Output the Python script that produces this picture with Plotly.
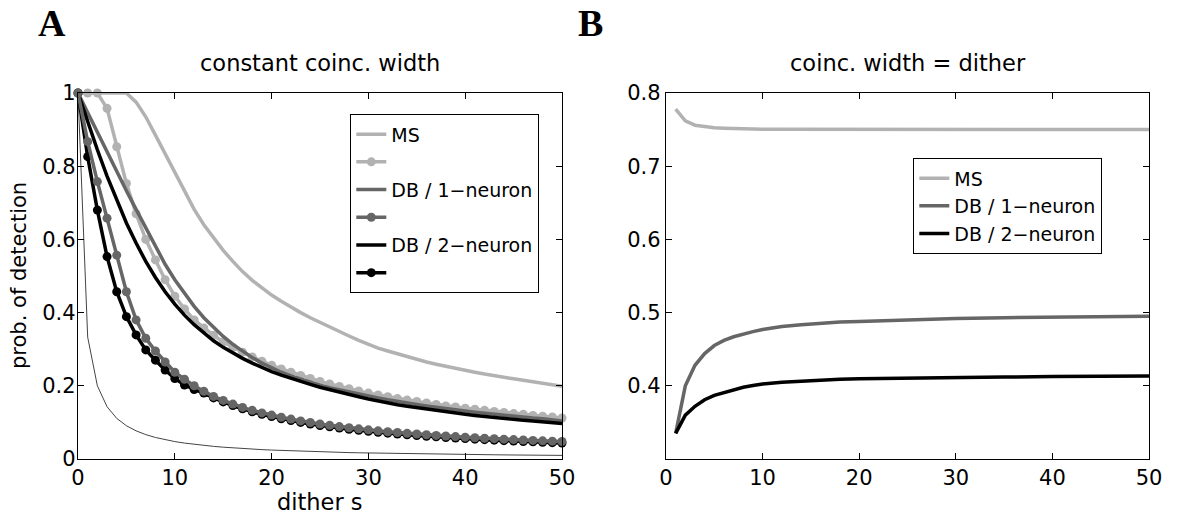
import plotly.graph_objects as go

# ---------------- data: panel A (constant coinc. width) ----------------
dither_a = list(range(0, 51))

ms_line = [1, 1, 1, 1, 1, 1, 0.975, 0.935, 0.885, 0.835, 0.785, 0.73, 0.682, 0.64, 0.603,
           0.57, 0.54, 0.512, 0.488, 0.467, 0.448, 0.431, 0.415, 0.4, 0.386, 0.373, 0.36,
           0.348, 0.336, 0.324, 0.313, 0.303, 0.295, 0.287, 0.279, 0.272, 0.265, 0.259,
           0.253, 0.247, 0.242, 0.237, 0.232, 0.227, 0.223, 0.219, 0.215, 0.211, 0.207,
           0.203, 0.199]

ms_dots = [1, 1, 1, 0.958, 0.853, 0.753, 0.67, 0.6, 0.544, 0.49, 0.445, 0.41, 0.38, 0.358,
           0.338, 0.32, 0.305, 0.292, 0.279, 0.267, 0.256, 0.246, 0.237, 0.228, 0.22, 0.212,
           0.205, 0.198, 0.192, 0.186, 0.18, 0.175, 0.17, 0.165, 0.161, 0.157, 0.153, 0.149,
           0.145, 0.142, 0.139, 0.136, 0.133, 0.13, 0.127, 0.124, 0.122, 0.119, 0.117, 0.115,
           0.112]

db1_line = [1, 0.946, 0.892, 0.838, 0.785, 0.733, 0.682, 0.632, 0.58, 0.532, 0.49, 0.452,
            0.417, 0.386, 0.359, 0.335, 0.313, 0.294, 0.277, 0.262, 0.249, 0.237, 0.227,
            0.218, 0.21, 0.202, 0.195, 0.189, 0.183, 0.177, 0.172, 0.167, 0.162, 0.157,
            0.153, 0.149, 0.145, 0.141, 0.138, 0.135, 0.131, 0.128, 0.125, 0.122, 0.12,
            0.117, 0.114, 0.112, 0.11, 0.107, 0.104]

db1_dots = [1, 0.867, 0.758, 0.658, 0.557, 0.457, 0.38, 0.33, 0.295, 0.265, 0.237, 0.218,
            0.2, 0.185, 0.171, 0.16, 0.15, 0.141, 0.133, 0.126, 0.12, 0.114, 0.109, 0.104,
            0.0996, 0.0956, 0.0919, 0.0885, 0.0853, 0.0824, 0.0796, 0.077, 0.0746, 0.0724,
            0.0702, 0.0682, 0.0663, 0.0645, 0.0628, 0.0612, 0.0597, 0.0582, 0.0568, 0.0555,
            0.0542, 0.053, 0.0519, 0.0508, 0.0497, 0.0487, 0.0477]

db2_line = [1, 0.92, 0.845, 0.773, 0.706, 0.645, 0.59, 0.54, 0.496, 0.457, 0.423, 0.393,
            0.367, 0.344, 0.323, 0.305, 0.289, 0.275, 0.262, 0.25, 0.239, 0.229, 0.22,
            0.212, 0.204, 0.196, 0.189, 0.182, 0.176, 0.17, 0.164, 0.158, 0.153, 0.148,
            0.144, 0.14, 0.136, 0.132, 0.128, 0.125, 0.122, 0.119, 0.116, 0.113, 0.111,
            0.108, 0.106, 0.104, 0.101, 0.099, 0.097]

db2_dots = [1, 0.826, 0.68, 0.553, 0.457, 0.389, 0.339, 0.298, 0.27, 0.243, 0.22, 0.202,
            0.19, 0.18, 0.167, 0.156, 0.146, 0.137, 0.129, 0.122, 0.116, 0.11, 0.105, 0.1,
            0.0956, 0.0916, 0.0879, 0.0845, 0.0813, 0.0784, 0.0756, 0.073, 0.0706, 0.0684,
            0.0662, 0.0642, 0.0623, 0.0605, 0.0588, 0.0572, 0.0557, 0.0542, 0.0528, 0.0515,
            0.0502, 0.049, 0.0479, 0.0468, 0.0457, 0.0447, 0.0437]

thin_ref = [1, 0.333, 0.2, 0.143, 0.111, 0.0909, 0.0769, 0.0667, 0.0588, 0.0526, 0.0476,
            0.0435, 0.04, 0.037, 0.0345, 0.0323, 0.0303, 0.0286, 0.027, 0.0256, 0.0244,
            0.0233, 0.0222, 0.0213, 0.0204, 0.0196, 0.0189, 0.0182, 0.0175, 0.0169, 0.0164,
            0.0159, 0.0154, 0.0149, 0.0145, 0.0141, 0.0137, 0.0133, 0.013, 0.0127, 0.0123,
            0.012, 0.0118, 0.0115, 0.0112, 0.011, 0.0108, 0.0105, 0.0103, 0.0101, 0.0099]

# ---------------- data: panel B (coinc. width = dither) ----------------
dither_b = [1, 2, 3, 4, 5, 6, 7, 8, 9, 10, 12, 14, 16, 18, 20, 25, 30, 35, 40, 45, 50]
ms_b = [0.778, 0.762, 0.756, 0.754, 0.7525, 0.752, 0.7515, 0.751, 0.7508, 0.7506, 0.7504,
        0.7503, 0.7502, 0.7502, 0.7501, 0.7501, 0.75, 0.75, 0.75, 0.75, 0.75]
db1_b = [0.335, 0.40, 0.428, 0.444, 0.455, 0.462, 0.467, 0.471, 0.474, 0.477, 0.481,
         0.4835, 0.4855, 0.487, 0.488, 0.4905, 0.492, 0.493, 0.494, 0.4945, 0.495]
db2_b = [0.335, 0.36, 0.372, 0.381, 0.387, 0.391, 0.395, 0.398, 0.4005, 0.4025, 0.405,
         0.4065, 0.4078, 0.4088, 0.4095, 0.4107, 0.4115, 0.412, 0.4126, 0.413, 0.4134]

labels = ["MS", "DB / 1\u2212neuron", "DB / 2\u2212neuron"]
x_ticks = [0, 10, 20, 30, 40, 50]
ya_ticks = [0, 0.2, 0.4, 0.6, 0.8, 1]
yb_ticks = [0.4, 0.5, 0.6, 0.7, 0.8]

LIGHT = "#b2b2b2"
MID = "#666666"
BLACK = "#000000"
FONT = "DejaVu Sans, Liberation Sans, Arial, sans-serif"
SERIF = "Liberation Serif, DejaVu Serif, serif"

fig = go.Figure()

# panel A traces (drawing order), legend order by legendrank
fig.add_trace(go.Scatter(x=dither_a, y=thin_ref, mode="lines", line=dict(color="#444444", width=1),
                         showlegend=False, xaxis="x", yaxis="y"))
fig.add_trace(go.Scatter(x=dither_a, y=ms_line, mode="lines", name=labels[0],
                         line=dict(color=LIGHT, width=3.5), legend="legend", legendrank=1,
                         xaxis="x", yaxis="y"))
fig.add_trace(go.Scatter(x=dither_a, y=ms_dots, mode="lines+markers", name=" ",
                         line=dict(color=LIGHT, width=3.5), marker=dict(color=LIGHT, size=9),
                         legend="legend", legendrank=2, cliponaxis=False, xaxis="x", yaxis="y"))
fig.add_trace(go.Scatter(x=dither_a, y=db1_line, mode="lines", name=labels[1],
                         line=dict(color=MID, width=3.5), legend="legend", legendrank=3,
                         xaxis="x", yaxis="y"))
fig.add_trace(go.Scatter(x=dither_a, y=db2_line, mode="lines", name=labels[2],
                         line=dict(color=BLACK, width=3.5), legend="legend", legendrank=5,
                         xaxis="x", yaxis="y"))
fig.add_trace(go.Scatter(x=dither_a, y=db2_dots, mode="lines+markers", name=" ",
                         line=dict(color=BLACK, width=3.5), marker=dict(color=BLACK, size=9),
                         legend="legend", legendrank=6, cliponaxis=False, xaxis="x", yaxis="y"))
fig.add_trace(go.Scatter(x=dither_a, y=db1_dots, mode="lines+markers", name=" ",
                         line=dict(color=MID, width=3.5), marker=dict(color=MID, size=9),
                         legend="legend", legendrank=4, cliponaxis=False, xaxis="x", yaxis="y"))

# panel B traces
for vals, col, lab in [(ms_b, LIGHT, labels[0]), (db1_b, MID, labels[1]), (db2_b, BLACK, labels[2])]:
    fig.add_trace(go.Scatter(x=dither_b, y=vals, mode="lines", name=lab,
                             line=dict(color=col, width=3.5), legend="legend2",
                             xaxis="x2", yaxis="y2"))

W, H = 1181, 520
axis_common = dict(showline=True, linecolor="black", linewidth=1.3, mirror="allticks",
                   ticks="inside", ticklen=6, tickcolor="black", tickwidth=1,
                   showgrid=False, zeroline=False, automargin=False,
                   tickfont=dict(family=FONT, size=21, color="black"))

fig.update_layout(
    width=W, height=H,
    margin=dict(l=0, r=0, t=0, b=0, pad=0),
    paper_bgcolor="white", plot_bgcolor="white",
    font=dict(family=FONT, color="black"),
    xaxis=dict(domain=[78 / W, 562 / W], range=[0, 50], tickvals=x_ticks, anchor="y",
               **axis_common),
    yaxis=dict(domain=[1 - 459 / H, 1 - 93 / H], range=[0, 1], tickvals=ya_ticks, anchor="x",
               ticklabelstandoff=-3, **axis_common),
    xaxis2=dict(domain=[666 / W, 1149 / W], range=[0, 50], tickvals=x_ticks, anchor="y2",
                **axis_common),
    yaxis2=dict(domain=[1 - 459 / H, 1 - 93 / H], range=[0.3, 0.8], tickvals=yb_ticks,
                anchor="x2", **axis_common),
    legend=dict(x=350 / W, y=1 - 114 / H, xanchor="left", yanchor="top",
                bgcolor="white", bordercolor="black", borderwidth=1.3,
                font=dict(family=FONT, size=19, color="black")),
    legend2=dict(x=913 / W, y=1 - 158 / H, xanchor="left", yanchor="top",
                 bgcolor="white", bordercolor="black", borderwidth=1.3,
                 font=dict(family=FONT, size=19, color="black")),
    annotations=[
        dict(text="constant coinc. width", x=320 / W, y=1 - 63 / H, xref="paper", yref="paper",
             showarrow=False, font=dict(family=FONT, size=22.5), xanchor="center", yanchor="middle"),
        dict(text="coinc. width = dither", x=907.5 / W, y=1 - 63 / H, xref="paper", yref="paper",
             showarrow=False, font=dict(family=FONT, size=22.5), xanchor="center", yanchor="middle"),
        dict(text="dither s", x=320 / W, y=1 - 502 / H, xref="paper", yref="paper",
             showarrow=False, font=dict(family=FONT, size=22.5), xanchor="center", yanchor="middle"),
        dict(text="prob. of detection", x=19 / W, y=1 - 276 / H, xref="paper", yref="paper",
             showarrow=False, textangle=-90, font=dict(family=FONT, size=21),
             xanchor="center", yanchor="middle"),
        dict(text="<b>A</b>", x=36 / W, y=1, xref="paper", yref="paper", showarrow=False,
             font=dict(family=SERIF, size=38), xanchor="left", yanchor="top"),
        dict(text="<b>B</b>", x=576 / W, y=1, xref="paper", yref="paper", showarrow=False,
             font=dict(family=SERIF, size=38), xanchor="left", yanchor="top"),
    ],
)

fig.write_html("out.html")
